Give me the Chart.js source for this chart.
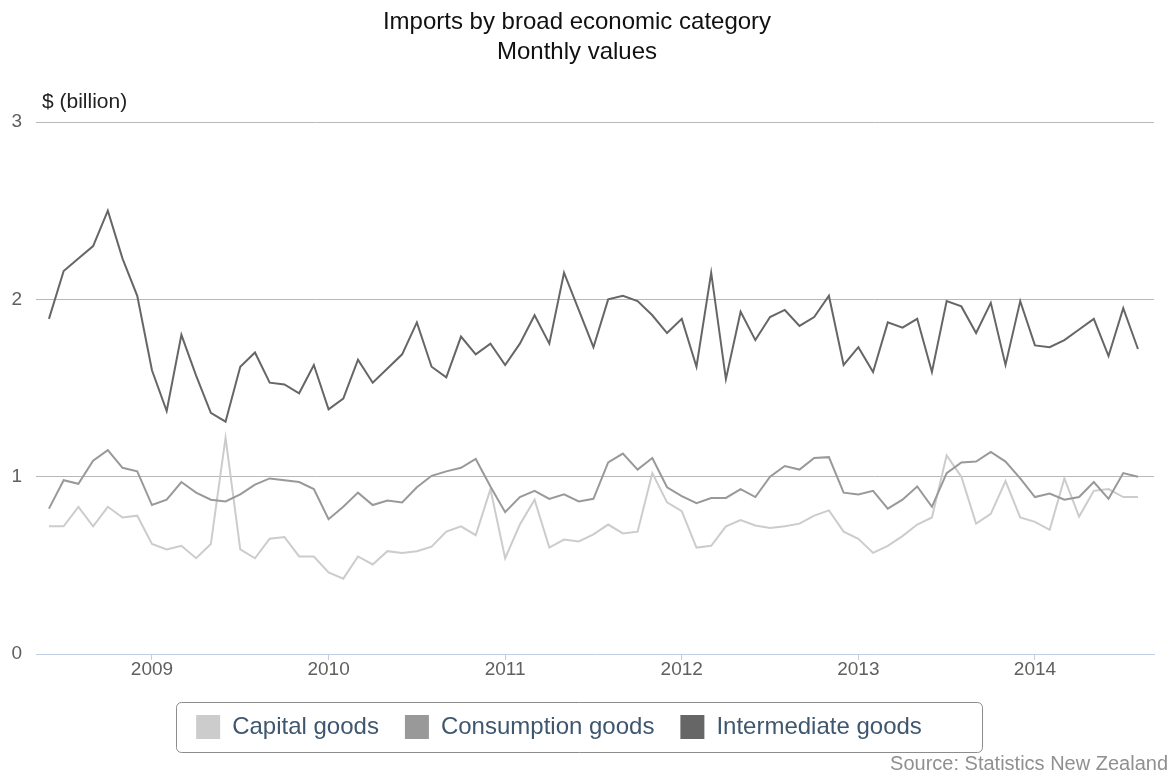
<!DOCTYPE html>
<html>
<head>
<meta charset="utf-8">
<script src="https://cdn.jsdelivr.net/npm/chart.js@4.4.0/dist/chart.umd.min.js"></script>
<style>
html,body{margin:0;padding:0;background:#fff;}
#wrap{width:1173px;height:773px;position:relative;}
</style>
</head>
<body>
<div id="wrap"><canvas id="c" width="1173" height="773"></canvas></div>
<script>
const titleLines = ['Imports by broad economic category', 'Monthly values'];
const yAxisTitle = '$ (billion)';
const sourceText = 'Source: Statistics New Zealand';

const months = [
  '2008-06','2008-07','2008-08','2008-09','2008-10','2008-11','2008-12',
  '2009-01','2009-02','2009-03','2009-04','2009-05','2009-06','2009-07','2009-08','2009-09','2009-10','2009-11','2009-12',
  '2010-01','2010-02','2010-03','2010-04','2010-05','2010-06','2010-07','2010-08','2010-09','2010-10','2010-11','2010-12',
  '2011-01','2011-02','2011-03','2011-04','2011-05','2011-06','2011-07','2011-08','2011-09','2011-10','2011-11','2011-12',
  '2012-01','2012-02','2012-03','2012-04','2012-05','2012-06','2012-07','2012-08','2012-09','2012-10','2012-11','2012-12',
  '2013-01','2013-02','2013-03','2013-04','2013-05','2013-06','2013-07','2013-08','2013-09','2013-10','2013-11','2013-12',
  '2014-01','2014-02','2014-03','2014-04','2014-05','2014-06','2014-07','2014-08'
];
const yearTicks = ['2009','2010','2011','2012','2013','2014'];
const yTicks = [0, 1, 2, 3];

const seriesNames = ['Capital goods', 'Consumption goods', 'Intermediate goods'];
const seriesColors = ['#cccccc', '#999999', '#666666'];

const capital = [
  0.72, 0.72, 0.83, 0.72, 0.83, 0.77, 0.78, 0.62, 0.59, 0.61, 0.54, 0.62, 1.22, 0.59, 0.54, 0.65, 0.66, 0.55, 0.55, 0.46,
  0.425, 0.55, 0.505, 0.58, 0.57, 0.58, 0.605, 0.69, 0.72, 0.67, 0.93, 0.54, 0.73, 0.87, 0.60, 0.645, 0.635, 0.675, 0.73, 0.68,
  0.69, 1.02, 0.855, 0.805, 0.60, 0.61, 0.72, 0.755, 0.725, 0.71, 0.72, 0.735, 0.78, 0.81, 0.69, 0.65, 0.57, 0.61, 0.665, 0.73,
  0.77, 1.12, 1.00, 0.735, 0.79, 0.975, 0.77, 0.745, 0.70, 0.99, 0.775, 0.92, 0.93, 0.885, 0.885
];
const consumption = [
  0.82, 0.98, 0.96, 1.09, 1.15, 1.05, 1.03, 0.84, 0.87, 0.97, 0.91, 0.87, 0.86, 0.90, 0.955, 0.99, 0.98, 0.97, 0.93, 0.76,
  0.83, 0.91, 0.84, 0.865, 0.855, 0.94, 1.005, 1.03, 1.05, 1.10, 0.945, 0.80, 0.885, 0.92, 0.875, 0.90, 0.86, 0.875, 1.08, 1.13,
  1.04, 1.105, 0.94, 0.89, 0.85, 0.88, 0.88, 0.93, 0.885, 1.00, 1.06, 1.04, 1.105, 1.11, 0.91, 0.90, 0.92, 0.82, 0.87, 0.945,
  0.83, 1.02, 1.08, 1.085, 1.14, 1.085, 0.99, 0.885, 0.905, 0.87, 0.885, 0.97, 0.875, 1.02, 1.00
];
const intermediate = [
  1.89, 2.16, 2.23, 2.30, 2.50, 2.23, 2.02, 1.60, 1.37, 1.80, 1.57, 1.36, 1.31, 1.62, 1.70, 1.53, 1.52, 1.47, 1.63, 1.38,
  1.44, 1.66, 1.53, 1.61, 1.69, 1.87, 1.62, 1.56, 1.79, 1.69, 1.75, 1.63, 1.75, 1.91, 1.75, 2.15, 1.94, 1.73, 2.00, 2.02,
  1.99, 1.91, 1.81, 1.89, 1.62, 2.15, 1.55, 1.93, 1.77, 1.90, 1.94, 1.85, 1.90, 2.02, 1.63, 1.73, 1.59, 1.87, 1.84, 1.89,
  1.59, 1.99, 1.96, 1.81, 1.98, 1.63, 1.99, 1.74, 1.73, 1.77, 1.83, 1.89, 1.68, 1.95, 1.72
];

const FAMILY = '"Liberation Sans", Arial, Helvetica, sans-serif';
const seriesValues = [capital, consumption, intermediate];

const datasets = seriesValues.map((vals, k) => ({
  label: seriesNames[k],
  data: vals.map((v, i) => ({x: i, y: v})),
  borderColor: seriesColors[k],
  backgroundColor: seriesColors[k],
  borderWidth: 2,
  pointRadius: 0,
  pointHoverRadius: 0,
  tension: 0,
  fill: false,
  order: 3 - k
}));

const extras = {
  id: 'extras',
  afterLayout(chart) {
    const lg = chart.legend;
    if (lg) { lg.left -= 18; lg.right -= 18; }
  },
  afterDraw(chart) {
    const ctx = chart.ctx;
    const ca = chart.chartArea;
    ctx.save();
    // y-axis title
    ctx.font = '21px ' + FAMILY;
    ctx.fillStyle = '#222222';
    ctx.textAlign = 'left';
    ctx.textBaseline = 'middle';
    ctx.fillText(yAxisTitle, ca.left + 6, ca.top - 20);
    // source
    ctx.font = '20px ' + FAMILY;
    ctx.fillStyle = '#909090';
    ctx.textAlign = 'right';
    ctx.fillText(sourceText, chart.width - 5, 764);
    // legend border
    const hb = chart.legend && chart.legend.legendHitBoxes;
    if (hb && hb.length) {
      const last = hb[hb.length - 1];
      const l = Math.round(hb[0].left - 20) + 0.5;
      const r = Math.round(last.left + last.width + 60) + 0.5;
      const cy = hb[0].top + hb[0].height / 2;
      const t = Math.round(cy - 25) + 0.5;
      ctx.strokeStyle = '#8c8c8c';
      ctx.lineWidth = 1;
      ctx.beginPath();
      ctx.roundRect(l, t, r - l, 50, 5);
      ctx.stroke();
    }
    ctx.restore();
  }
};

new Chart(document.getElementById('c'), {
  type: 'line',
  data: { datasets },
  plugins: [extras],
  options: {
    responsive: false,
    animation: false,
    devicePixelRatio: 1,
    layout: { padding: { left: 0, right: 19, top: 0, bottom: 24 } },
    plugins: {
      tooltip: { enabled: false },
      title: {
        display: true,
        text: titleLines,
        color: '#111111',
        font: { family: FAMILY, size: 24, weight: 'normal', lineHeight: '30px' },
        padding: { top: 7, bottom: 55 }
      },
      legend: {
        display: true,
        position: 'bottom',
        labels: {
          boxWidth: 24,
          boxHeight: 24,
          padding: 26,
          color: '#3E576F',
          font: { family: FAMILY, size: 24 },
          sort: (a, b) => a.datasetIndex - b.datasetIndex,
          generateLabels: (chart) => Chart.defaults.plugins.legend.labels.generateLabels(chart).map(l => Object.assign(l, { lineWidth: 0 }))
        }
      }
    },
    scales: {
      x: {
        type: 'linear',
        min: -0.88,
        max: 75.09,
        afterBuildTicks: (s) => { s.ticks = yearTicks.map(y => ({ value: months.indexOf(y + '-01') })); },
        afterFit: (s) => { s.height = 35; },
        ticks: {
          autoSkip: false,
          maxRotation: 0,
          padding: 0,
          color: '#606060',
          font: { family: FAMILY, size: 19, lineHeight: 1 },
          callback: (v) => (months[v] ? months[v].slice(0, 4) : '')
        },
        grid: { drawOnChartArea: false, drawTicks: true, tickLength: 6, color: '#C0D0E0' },
        border: { display: true, color: '#C0D0E0', width: 1 }
      },
      y: {
        min: 0,
        max: 3,
        afterBuildTicks: (s) => { s.ticks = yTicks.map(v => ({ value: v })); },
        afterFit: (s) => { s.width = 36; },
        ticks: {
          padding: 14,
          color: '#606060',
          font: { family: FAMILY, size: 19 }
        },
        grid: {
          drawTicks: false,
          color: (c) => (c.tick && c.tick.value === 0 ? 'rgba(0,0,0,0)' : '#b8b8b8')
        },
        border: { display: false }
      }
    }
  }
});
</script>
</body>
</html>
